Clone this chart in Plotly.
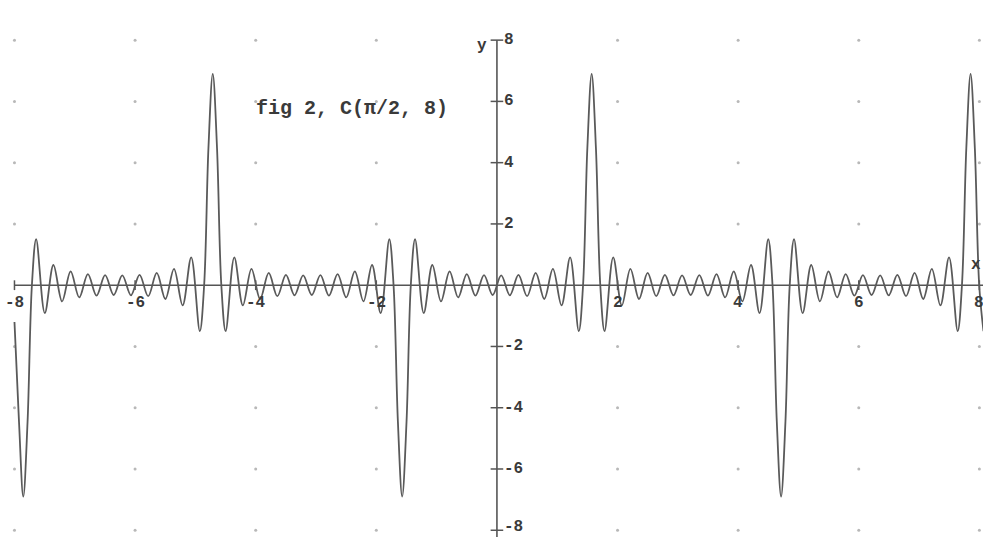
import plotly.graph_objects as go

# Curve values (extrema, peaks and zero crossings near peaks)
curve_x = [
    -8.000, -7.925, -7.854, -7.783, -7.711, -7.640, -7.497, -7.354, -7.211, -7.069,
    -6.926, -6.783, -6.640, -6.497, -6.355, -6.212, -6.069, -5.926, -5.783, -5.641,
    -5.498, -5.355, -5.212, -5.069, -4.927, -4.855, -4.784, -4.712, -4.641, -4.570,
    -4.498, -4.355, -4.213, -4.070, -3.927, -3.784, -3.641, -3.499, -3.356, -3.213,
    -3.070, -2.927, -2.785, -2.642, -2.499, -2.356, -2.213, -2.071, -1.928, -1.785,
    -1.714, -1.642, -1.571, -1.499, -1.428, -1.357, -1.214, -1.071, -0.928, -0.785,
    -0.643, -0.500, -0.357, -0.214, -0.071,
    0.071, 0.214, 0.357, 0.500, 0.643, 0.785, 0.928, 1.071, 1.214, 1.357,
    1.428, 1.499, 1.571, 1.642, 1.714, 1.785, 1.928, 2.071, 2.213, 2.356,
    2.499, 2.642, 2.785, 2.927, 3.070, 3.213, 3.356, 3.499, 3.641, 3.784,
    3.927, 4.070, 4.213, 4.355, 4.498, 4.570, 4.641, 4.712, 4.784, 4.855,
    4.927, 5.069, 5.212, 5.355, 5.498, 5.641, 5.783, 5.926, 6.069, 6.212,
    6.355, 6.497, 6.640, 6.783, 6.926, 7.069, 7.211, 7.354, 7.497, 7.640,
    7.711, 7.783, 7.854, 7.925, 7.997, 8.068,
]
curve_y = [
    -1.20, -4.46, -6.90, -4.46, 0.00, 1.50, -0.91, 0.66, -0.53, 0.45,
    -0.40, 0.36, -0.34, 0.33, -0.32, 0.32, -0.33, 0.34, -0.36, 0.40,
    -0.45, 0.53, -0.66, 0.91, -1.50, 0.00, 4.46, 6.90, 4.46, 0.00,
    -1.50, 0.91, -0.66, 0.53, -0.45, 0.40, -0.36, 0.34, -0.33, 0.32,
    -0.32, 0.33, -0.34, 0.36, -0.40, 0.45, -0.53, 0.66, -0.91, 1.50,
    0.00, -4.46, -6.90, -4.46, 0.00, 1.50, -0.91, 0.66, -0.53, 0.45,
    -0.40, 0.36, -0.34, 0.33, -0.32,
    0.32, -0.33, 0.34, -0.36, 0.40, -0.45, 0.53, -0.66, 0.91, -1.50,
    0.00, 4.46, 6.90, 4.46, 0.00, -1.50, 0.91, -0.66, 0.53, -0.45,
    0.40, -0.36, 0.34, -0.33, 0.32, -0.32, 0.33, -0.34, 0.36, -0.40,
    0.45, -0.53, 0.66, -0.91, 1.50, 0.00, -4.46, -6.90, -4.46, 0.00,
    1.50, -0.91, 0.66, -0.53, 0.45, -0.40, 0.36, -0.34, 0.33, -0.32,
    0.32, -0.33, 0.34, -0.36, 0.40, -0.45, 0.53, -0.66, 0.91, -1.50,
    0.00, 4.46, 6.90, 4.46, 0.00, -1.50,
]

x_ticks = [-8, -6, -4, -2, 2, 4, 6, 8]
x_tick_labels = ["-8", "-6", "-4", "-2", "2", "4", "6", "8"]
y_ticks = [-8, -6, -4, -2, 2, 4, 6, 8]
y_tick_labels = ["-8", "-6", "-4", "-2", "2", "4", "6", "8"]
grid_x = [-8, -6, -4, -2, 2, 4, 6, 8]
grid_y = [-8, -6, -4, -2, 2, 4, 6, 8]

title_text = "fig 2, C(\u03c0/2, 8)"

AXIS_COLOR = "#555555"
CURVE_COLOR = "#5a5a5a"
TEXT_COLOR = "#3a3a3a"
FONT = "Liberation Mono"

fig = go.Figure()

# dotted grid
gx = [x for x in grid_x for _ in grid_y]
gy = [y for _ in grid_x for y in grid_y]
fig.add_trace(go.Scatter(x=gx, y=gy, mode="markers",
                         marker=dict(size=3, color="#b8b8b8"),
                         hoverinfo="skip", showlegend=False))

# tick marks
fig.add_trace(go.Scatter(x=x_ticks, y=[0] * len(x_ticks), mode="markers",
                         marker=dict(symbol="line-ns", size=7,
                                     line=dict(width=1.5, color=AXIS_COLOR)),
                         hoverinfo="skip", showlegend=False))
fig.add_trace(go.Scatter(x=[0] * len(y_ticks), y=y_ticks, mode="markers",
                         marker=dict(symbol="line-ew", size=9,
                                     line=dict(width=1.5, color=AXIS_COLOR)),
                         hoverinfo="skip", showlegend=False))

# curve
fig.add_trace(go.Scatter(x=curve_x, y=curve_y, mode="lines",
                         line=dict(color=CURVE_COLOR, width=1.8, shape="spline",
                                   smoothing=1.0),
                         hoverinfo="skip", showlegend=False))

# axis lines
fig.add_shape(type="line", xref="x", yref="y", x0=min(x_ticks), x1=8.2, y0=0, y1=0,
              line=dict(color=AXIS_COLOR, width=1.6), layer="below")
fig.add_shape(type="line", xref="x", yref="y", x0=0, x1=0, y0=-8.4, y1=max(y_ticks),
              line=dict(color=AXIS_COLOR, width=1.6), layer="below")

tick_font = dict(family=FONT, size=16, color=TEXT_COLOR, weight="bold")
for xv, lab in zip(x_ticks, x_tick_labels):
    fig.add_annotation(x=xv, y=0, text=lab, showarrow=False, font=tick_font,
                       xanchor="center", yanchor="middle", yshift=-18)
for yv, lab in zip(y_ticks, y_tick_labels):
    fig.add_annotation(x=0, y=yv, text=lab, showarrow=False, font=tick_font,
                       xanchor="left", yanchor="middle", xshift=6,
                       yshift=(3 if yv == min(y_ticks) else 0), borderpad=0)

fig.add_annotation(x=0, y=max(y_ticks), text="y", showarrow=False, font=tick_font,
                   xanchor="right", yanchor="middle", xshift=-8, yshift=-6)
fig.add_annotation(x=max(x_ticks), y=0, text="x", showarrow=False, font=tick_font,
                   xanchor="center", yanchor="middle", yshift=20, xshift=-3)

fig.add_annotation(x=-2.40, y=5.78, text=title_text, showarrow=False,
                   font=dict(family=FONT, size=20, color=TEXT_COLOR, weight="bold"),
                   xanchor="center", yanchor="middle")

fig.update_layout(
    width=983, height=537,
    margin=dict(l=0, r=0, t=0, b=0),
    paper_bgcolor="white", plot_bgcolor="white",
    xaxis=dict(range=[-8.24, 8.06], showgrid=False, zeroline=False,
               showticklabels=False, showline=False, ticks=""),
    yaxis=dict(range=[-8.22, 9.31], showgrid=False, zeroline=False,
               showticklabels=False, showline=False, ticks=""),
    showlegend=False,
)

fig.write_html("out.html", config={"displayModeBar": False},
               post_script="document.body.style.margin='0';")
